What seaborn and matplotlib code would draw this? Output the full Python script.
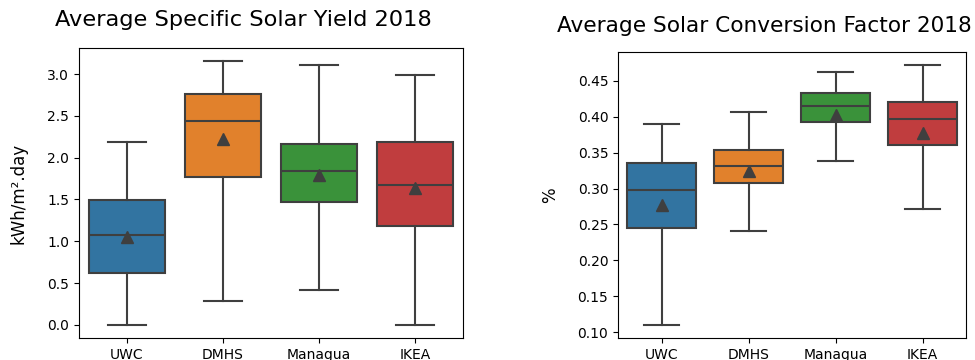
import matplotlib
matplotlib.use("Agg")
import matplotlib.pyplot as plt
import seaborn as sns

sites = ["UWC", "DMHS", "Managua", "IKEA"]

# Specific solar yield (kWh/m².day) – five-number summary and mean per site
yield_min = [0.00, 0.29, 0.42, 0.00]
yield_q1 = [0.625, 1.77, 1.465, 1.18]
yield_med = [1.075, 2.44, 1.835, 1.67]
yield_q3 = [1.495, 2.765, 2.16, 2.19]
yield_max = [2.19, 3.155, 3.11, 2.99]
yield_mean = [1.045, 2.22, 1.79, 1.635]

# Solar conversion factor – five-number summary and mean per site
conv_min = [0.110, 0.241, 0.338, 0.272]
conv_q1 = [0.245, 0.308, 0.393, 0.360]
conv_med = [0.298, 0.331, 0.415, 0.397]
conv_q3 = [0.336, 0.353, 0.433, 0.420]
conv_max = [0.390, 0.406, 0.462, 0.472]
conv_mean = [0.277, 0.324, 0.402, 0.377]

palette = sns.color_palette("tab10", n_colors=len(sites), desat=0.75)
line_gray = "#3f3f3f"


def summary_stats(lo, q1, med, q3, hi, mean):
    return [
        dict(label=s, whislo=a, q1=b, med=c, q3=d, whishi=e, mean=m, fliers=[])
        for s, a, b, c, d, e, m in zip(sites, lo, q1, med, q3, hi, mean)
    ]


def draw_box(ax, stats):
    art = ax.bxp(
        stats,
        positions=range(len(stats)),
        widths=0.8,
        capwidths=0.4,
        patch_artist=True,
        showmeans=True,
        showfliers=False,
        boxprops=dict(edgecolor=line_gray, linewidth=1.5),
        whiskerprops=dict(color=line_gray, linewidth=1.5),
        capprops=dict(color=line_gray, linewidth=1.5),
        medianprops=dict(color=line_gray, linewidth=1.5),
        meanprops=dict(marker="^", markerfacecolor=line_gray,
                       markeredgecolor=line_gray, markersize=8.5),
    )
    for patch, col in zip(art["boxes"], palette):
        patch.set_facecolor(col)
    ax.set_xlim(-0.5, len(stats) - 0.5)
    ax.set_xticks(range(len(stats)))
    ax.set_xticklabels(sites)
    ax.tick_params(labelsize=10)


fig = plt.figure(figsize=(9.75, 3.6), dpi=100)
ax1 = fig.add_axes([79 / 975, 22 / 360, 384 / 975, 290 / 360])
ax2 = fig.add_axes([618 / 975, 22 / 360, 348 / 975, 286 / 360])

draw_box(ax1, summary_stats(yield_min, yield_q1, yield_med, yield_q3, yield_max, yield_mean))
ax1.set_ylabel("kWh/m².day", fontsize=12, labelpad=14)
ax1.set_title("Average Specific Solar Yield 2018", fontsize=16.2, x=0.427, pad=16)

draw_box(ax2, summary_stats(conv_min, conv_q1, conv_med, conv_q3, conv_max, conv_mean))
ax2.set_ylabel("%", fontsize=12, labelpad=13)
ax2.set_title("Average Solar Conversion Factor 2018", fontsize=15.6, x=0.422, pad=14.5)

fig.savefig("out.png", dpi=100)
